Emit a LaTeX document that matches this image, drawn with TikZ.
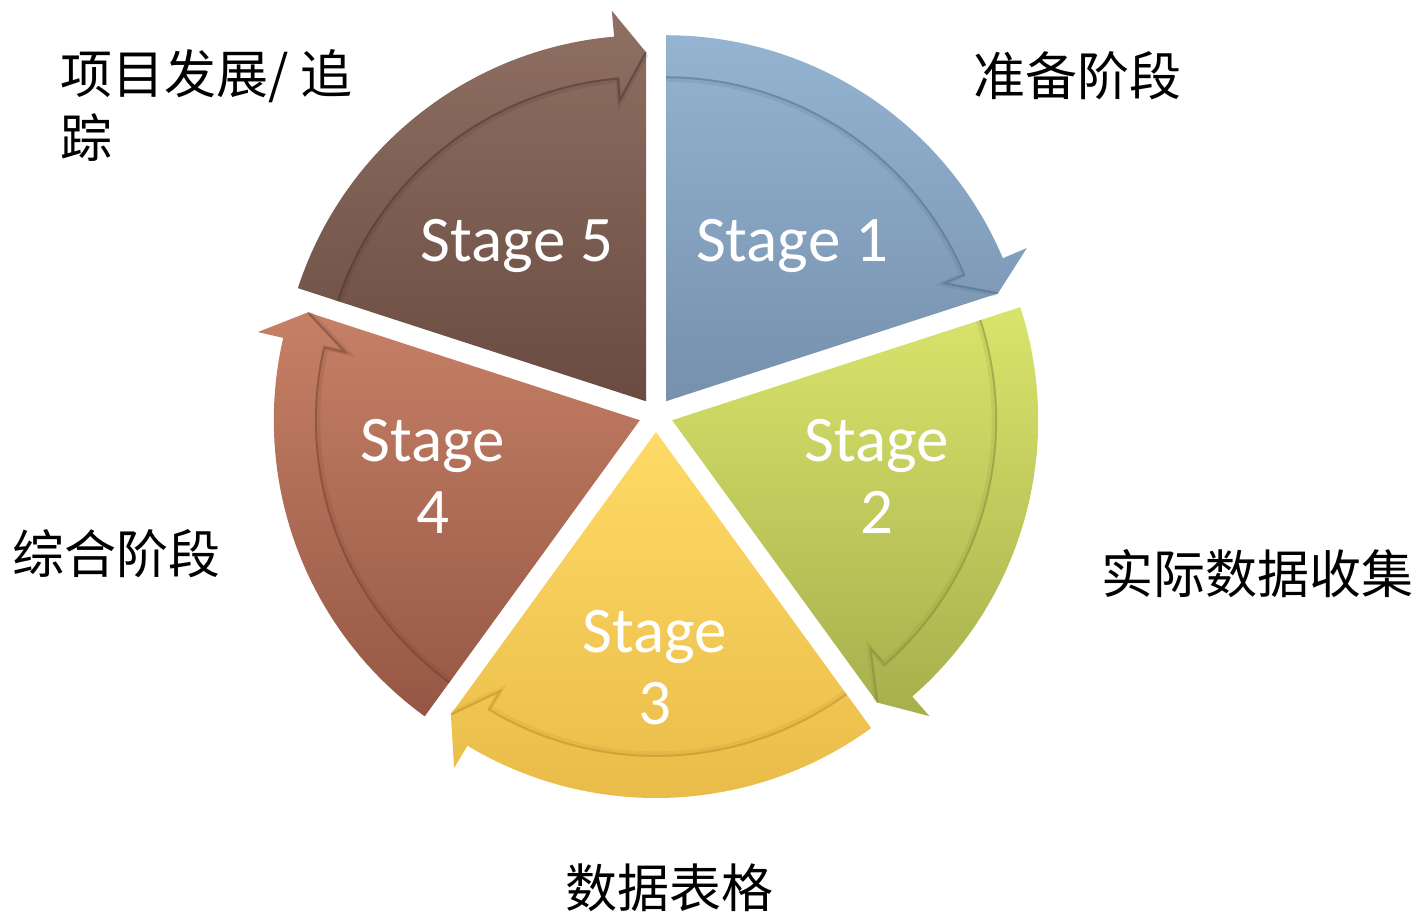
\documentclass[tikz,border=0pt]{standalone}
\usepackage{fontspec}
\setmainfont{Carlito}
\newfontfamily\cjk{Noto Sans CJK SC}
\usetikzlibrary{calc}

\definecolor{oneTop}{HTML}{94B4D2}
\definecolor{oneBot}{HTML}{7690AD}
\definecolor{oneLine}{HTML}{4F6885}
\definecolor{twoTop}{HTML}{D9E46C}
\definecolor{twoBot}{HTML}{A6AF4C}
\definecolor{twoLine}{HTML}{7E8734}
\definecolor{threeTop}{HTML}{FFDA66}
\definecolor{threeBot}{HTML}{E8BA47}
\definecolor{threeLine}{HTML}{B58A25}
\definecolor{fourTop}{HTML}{C68066}
\definecolor{fourBot}{HTML}{955744}
\definecolor{fourLine}{HTML}{6E3C2C}
\definecolor{fiveTop}{HTML}{8F7063}
\definecolor{fiveBot}{HTML}{6A4B41}
\definecolor{fiveLine}{HTML}{4A3029}

\tikzset{
  stagelabel/.style={text=white, font=\fontsize{65}{72}\selectfont, align=center, inner sep=0pt},
  cjklabel/.style={font=\cjk\fontsize{52}{64}\selectfont, anchor=base west, align=left, inner sep=0pt},
  bandline/.style={line width=2pt, opacity=.45, line join=miter},
  bandglow/.style={line width=5pt, opacity=.15, line join=miter},
}

% #1 start angle, #2 end angle, #3 top colour, #4 bottom colour, #5 line colour, #6 name
\newcommand\cyclesegment[6]{%
  \begin{scope}[shift={(656,500)}, shift={({(#1+#2)/2}:17)}]
    \coordinate (#6) at (0,0);
    \path[top color=#3, bottom color=#4]
      (0,0) -- (#1:366) arc[start angle=#1, end angle=#2+5, radius=366pt]
      -- (#2+5:392) -- (#2:349) -- cycle;
    \draw[bandglow, #5]
      (#1:322) arc[start angle=#1, end angle=#2+5, radius=322pt]
      -- (#2+5:300) -- (#2:347);
    \draw[bandline, #5]
      (#1:324) arc[start angle=#1, end angle=#2+5, radius=324pt]
      -- (#2+5:302) -- (#2:349);
  \end{scope}}

\begin{document}
\begin{tikzpicture}[x=1pt, y=1pt]
\useasboundingbox (0,0) rectangle (1424,915);

\cyclesegment{90}{18}{oneTop}{oneBot}{oneLine}{segone}
\cyclesegment{18}{-54}{twoTop}{twoBot}{twoLine}{segtwo}
\cyclesegment{-54}{-126}{threeTop}{threeBot}{threeLine}{segthree}
\cyclesegment{-126}{-198}{fourTop}{fourBot}{fourLine}{segfour}
\cyclesegment{162}{90}{fiveTop}{fiveBot}{fiveLine}{segfive}

\node[stagelabel] (s1) at (792,669) {Stage 1};
\node[stagelabel] (s5) at (517,669) {Stage 5};
\node[stagelabel] (s2) at (877,439) {Stage\\2};
\node[stagelabel] (s4) at (433,439) {Stage\\4};
\node[stagelabel] (s3) at (655,247) {Stage\\3};

\node[cjklabel] (l5) at (60,757) {项目发展/ 追\\踪};
\node[cjklabel] (l1) at (973,819) {准备阶段};
\node[cjklabel] (l4) at (12,341) {综合阶段};
\node[cjklabel] (l2) at (1101,321) {实际数据收集};
\node[cjklabel] (l3) at (565,7) {数据表格};
\end{tikzpicture}
\end{document}
